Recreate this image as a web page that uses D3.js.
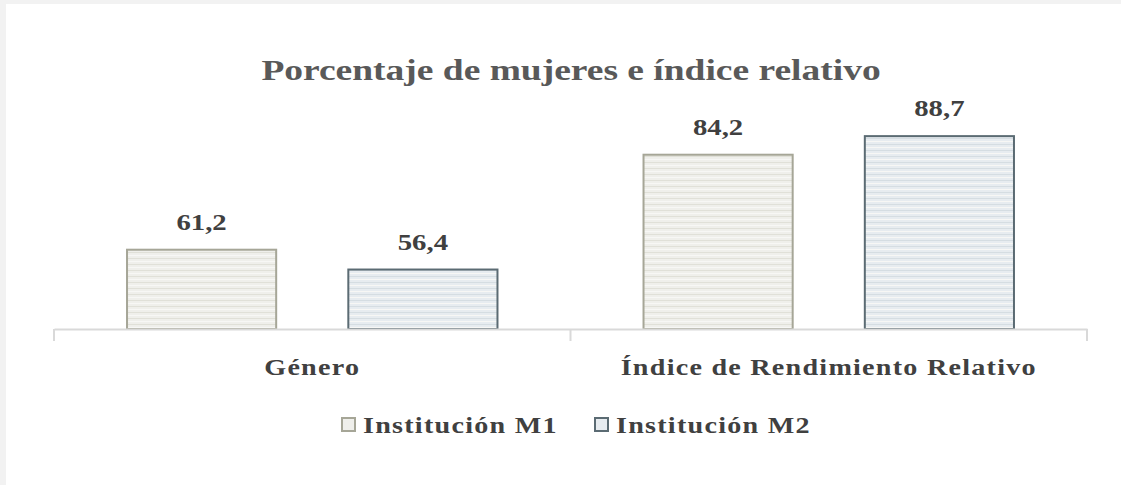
<!DOCTYPE html>
<html>
<head>
<meta charset="utf-8">
<script src="https://cdn.jsdelivr.net/npm/d3@7"></script>
<style>
  body { margin: 0; background: #f2f2f2; }
  svg { display: block; }
</style>
</head>
<body>
<div id="chart"></div>
<script>

var width = 1121,
	height = 485;

// data
var categories = ["Género", "Índice de Rendimiento Relativo"];
var series = ["Institución M1", "Institución M2"];
var valuesM1 = [61.2, 84.2];
var valuesM2 = [56.4, 88.7];

var fills = ["#efefeb", "#e7ecf0"],
	stripes = ["#e0e0d8", "#d5dde2"],
	strokes = ["#a6a697", "#5b6b73"],
	textcolor = "#404040",
	font = "'Liberation Serif', 'Times New Roman', serif",
	stretch = "scale(1.25,1)"; // the picture's lettering is wide

var margin = {left: 54, right: 34, top: 0};
var baseline = 329;

var svg = d3.select("#chart").append("svg")
	.attr("width", width)
	.attr("height", height);

// white card over the light grey frame
svg.append("rect")
	.attr("x", 6).attr("y", 4)
	.attr("width", width - 6).attr("height", height - 4)
	.attr("fill", "#ffffff");

// striped fills
var defs = svg.append("defs");
series.forEach(function(s, i){
	var p = defs.append("pattern")
		.attr("id", "stripe" + i)
		.attr("patternUnits", "userSpaceOnUse")
		.attr("width", 8).attr("height", 6);
	p.append("rect").attr("width", 8).attr("height", 6).attr("fill", fills[i]);
	p.append("rect").attr("y", 0).attr("width", 8).attr("height", 1).attr("fill", stripes[i]);
	p.append("rect").attr("y", 3).attr("width", 8).attr("height", 1).attr("fill", "#f7f7f5");
});

var X0 = d3.scaleBand().domain(categories).range([margin.left, width - margin.right]);
var X1 = d3.scaleBand().domain(series).range([0, X0.bandwidth()]).paddingInner(0.326).paddingOuter(0.33);
var Y = d3.scaleLinear().domain([42, 100]).range([baseline, baseline - 4.13 * 58]);

var rows = categories.map(function(c, i){
	return {cat: c, vals: [valuesM1[i], valuesM2[i]]};
});

var groups = svg.selectAll(".grp").data(rows).enter().append("g")
	.attr("class", "grp")
	.attr("transform", function(d){ return "translate(" + X0(d.cat) + ",0)"; });

groups.selectAll("rect").data(function(d){
		return d.vals.map(function(v, j){ return {s: series[j], v: v, j: j}; });
	}).enter().append("rect")
	.attr("x", function(d){ return X1(d.s); })
	.attr("y", function(d){ return Y(d.v); })
	.attr("width", X1.bandwidth())
	.attr("height", function(d){ return baseline - Y(d.v); })
	.attr("fill", function(d){ return "url(#stripe" + d.j + ")"; })
	.attr("stroke", function(d){ return strokes[d.j]; })
	.attr("stroke-width", 2);

groups.selectAll(".lbl").data(function(d){
		return d.vals.map(function(v, j){ return {s: series[j], v: v}; });
	}).enter().append("text")
	.attr("class", "lbl")
	.attr("transform", function(d){
		return "translate(" + (X1(d.s) + X1.bandwidth() / 2) + "," + (Y(d.v) - 20) + ")" + stretch;
	})
	.attr("text-anchor", "middle")
	.attr("font-family", font)
	.attr("font-weight", "bold")
	.attr("font-size", 23)
	.attr("fill", textcolor)
	.text(function(d){ return d3.format(".1f")(d.v).replace(".", ","); });

// axis
var axis = svg.append("g").attr("transform", "translate(0," + baseline + ")")
	.call(d3.axisBottom(X0).tickSize(0).tickPadding(0));
axis.select(".domain").attr("stroke", "#d9d9d9").attr("stroke-width", 2);
axis.selectAll(".tick text")
	.attr("y", 46).attr("dy", null)
	.attr("transform", stretch)
	.attr("font-family", font)
	.attr("font-weight", "bold")
	.attr("font-size", 22.5)
	.attr("letter-spacing", 1)
	.attr("fill", textcolor);
axis.selectAll(".sep").data(X0.domain().concat(["end"])).enter().append("line")
	.attr("class", "sep")
	.attr("x1", function(d){ return d == "end" ? X0.range()[1] : X0(d); })
	.attr("x2", function(d){ return d == "end" ? X0.range()[1] : X0(d); })
	.attr("y1", 0).attr("y2", 12)
	.attr("stroke", "#d9d9d9").attr("stroke-width", 2);

// title
svg.append("text")
	.attr("transform", "translate(571,80)" + stretch)
	.attr("text-anchor", "middle")
	.attr("font-family", font)
	.attr("font-weight", "bold")
	.attr("font-size", 30)
	.attr("fill", "#595959")
	.text("Porcentaje de mujeres e índice relativo");

// legend
var legendX = [340, 593];
var legend = svg.selectAll(".leg").data(series).enter().append("g")
	.attr("class", "leg")
	.attr("transform", function(d, i){ return "translate(" + legendX[i] + ",425)"; });
legend.append("rect")
	.attr("x", 2).attr("y", -7)
	.attr("width", 13).attr("height", 13)
	.attr("fill", function(d, i){ return fills[i]; })
	.attr("stroke", function(d, i){ return strokes[i]; })
	.attr("stroke-width", 2);
legend.append("text")
	.attr("transform", "translate(23,8)" + stretch)
	.attr("font-family", font)
	.attr("font-weight", "bold")
	.attr("font-size", 22.5)
	.attr("letter-spacing", 1)
	.attr("fill", textcolor)
	.text(function(d){ return d; });

</script>
</body>
</html>
